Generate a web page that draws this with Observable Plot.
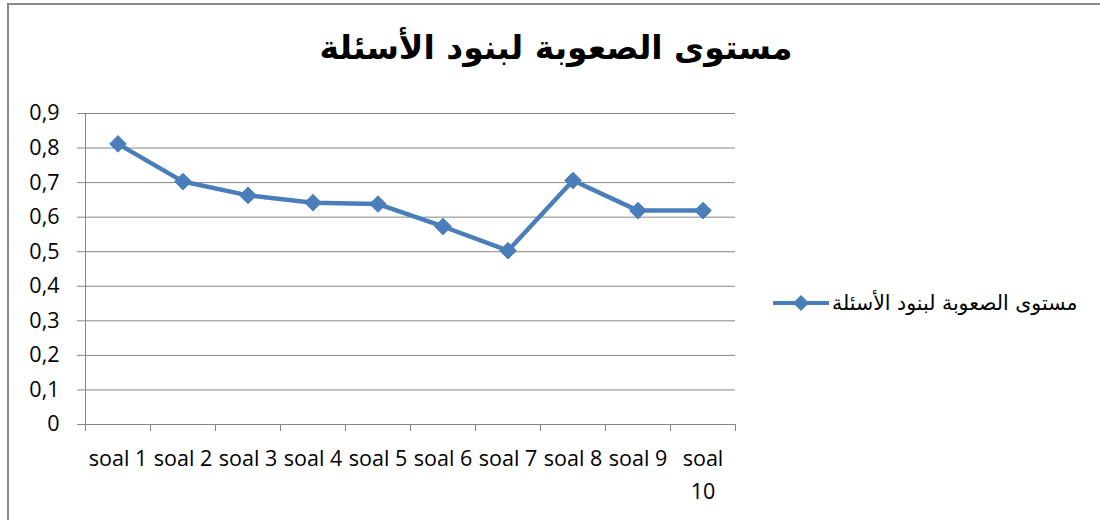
<!DOCTYPE html>
<html>
<head>
<meta charset="utf-8">
<script src="https://cdn.jsdelivr.net/npm/d3@7"></script>
<script src="https://cdn.jsdelivr.net/npm/@observablehq/plot@0.6"></script>
<style>
  body { margin: 0; background: #fff; }
  #wrap { position: relative; width: 1100px; height: 520px; overflow: hidden; background: #fff; }
  #frame { position: absolute; left: 7px; top: 3px; width: 1200px; height: 600px; border: 2px solid #8a8a8a; box-sizing: border-box; pointer-events: none; }
  #title { position: relative; height: 95px; width: 1112px; }
  #title span { position: absolute; left: 0; right: 0; top: 31px; text-align: center; direction: rtl;
    font: bold 33px "DejaVu Sans", sans-serif; line-height: 1; color: #000; }
  #chart svg { display: block; }
  #legend { position: absolute; left: 772px; top: 292px; height: 22px; display: flex; align-items: center; }
  #legend span { font: 20.5px "DejaVu Sans", sans-serif; direction: rtl; margin-left: 2px; color: #000; white-space: nowrap; }
  [aria-label="y-axis tick"], [aria-label="x-axis tick"] { stroke: #868686; }
</style>
</head>
<body>
<div id="wrap">
  <div id="frame"></div>
  <div id="title"><span></span></div>
  <div id="chart"></div>
  <div id="legend"></div>
</div>
<script>
const titleText = "مستوى الصعوبة لبنود الأسئلة";
const seriesName = "مستوى الصعوبة لبنود الأسئلة";
const categories = ["soal 1","soal 2","soal 3","soal 4","soal 5","soal 6","soal 7","soal 8","soal 9","soal 10"];
const values = [0.812, 0.703, 0.663, 0.642, 0.638, 0.573, 0.503, 0.706, 0.619, 0.619];
const yTicks = [0, 0.1, 0.2, 0.3, 0.4, 0.5, 0.6, 0.7, 0.8, 0.9];
const lineColor = "#4a7ebb";

document.querySelector("#title span").textContent = titleText;

const data = categories.map((c, i) => ({idx: i + 1, cat: c, v: values[i]}));
const centers = data.map(d => d.idx);
const bounds = [0, ...centers].map(i => i + 0.5);

const fmtY = d => d === 0 ? "0" : d.toFixed(1).replace(".", ",");
const fmtX = i => {
  const s = categories[i - 1];
  return s.length > 6 ? s.replace(" ", "\n") : s;
};

const chart = Plot.plot({
  width: 1100,
  height: 425,
  marginTop: 18,
  marginBottom: 96,
  marginLeft: 85,
  marginRight: 365,
  style: {fontFamily: "'Open Sans', sans-serif", fontSize: "21px", color: "#000", background: "transparent"},
  x: {type: "linear", domain: [0.5, categories.length + 0.5], label: null},
  y: {domain: [0, 0.9], label: null},
  marks: [
    Plot.gridY(yTicks, {stroke: "#868686", strokeOpacity: 1, strokeWidth: 1}),
    Plot.frame({anchor: "left", stroke: "#868686"}),
    Plot.axisY({ticks: yTicks, tickSize: 8, tickPadding: 18, tickFormat: fmtY, fontSize: 21.5, label: null}),
    Plot.axisX({ticks: bounds, tickSize: 7, tickFormat: () => "", label: null}),
    Plot.axisX({ticks: centers, tickSize: 0, tickPadding: 18, tickFormat: fmtX, fontSize: 21.5, lineHeight: 1.55, label: null}),
    Plot.line(data, {x: "idx", y: "v", stroke: lineColor, strokeWidth: 4.5}),
    Plot.dot(data, {x: "idx", y: "v", symbol: "diamond2", r: 7.5, fill: lineColor, stroke: lineColor, strokeWidth: 1})
  ]
});
document.getElementById("chart").appendChild(chart);

// legend
const lg = document.getElementById("legend");
const ns = "http://www.w3.org/2000/svg";
const ls = document.createElementNS(ns, "svg");
ls.setAttribute("width", 58); ls.setAttribute("height", 22);
ls.innerHTML = `<line x1="1" y1="11" x2="57" y2="11" stroke="${lineColor}" stroke-width="4"/>` +
  `<path d="M29,3 L37,11 L29,19 L21,11 Z" fill="${lineColor}"/>`;
lg.appendChild(ls);
const lt = document.createElement("span");
lt.textContent = seriesName;
lg.appendChild(lt);
</script>
</body>
</html>
